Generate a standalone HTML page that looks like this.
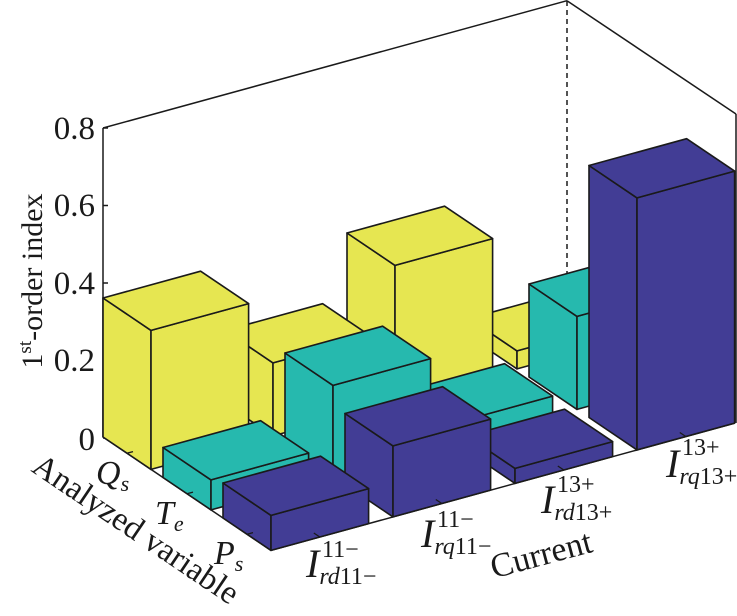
<!DOCTYPE html>
<html><head><meta charset="utf-8"><style>
html,body{margin:0;padding:0;background:#fff;}
svg{display:block;font-family:"Liberation Serif","Times New Roman",serif;}
</style></head><body>
<svg width="737" height="616" viewBox="0 0 737 616" xmlns="http://www.w3.org/2000/svg">
<g fill="none" stroke="#1a1a1a" stroke-width="1.5">
<line x1="103" y1="437" x2="103" y2="128"/>
<line x1="103" y1="128" x2="567" y2="0.7"/>
<line x1="567" y1="0.7" x2="736" y2="114"/>
<line x1="736" y1="114" x2="736" y2="423"/>
<line x1="567" y1="1" x2="567" y2="310" stroke-dasharray="5,4"/>
<line x1="103" y1="437" x2="271" y2="550.4"/>
<line x1="271" y1="550.4" x2="735" y2="423.1"/>
<line x1="103" y1="128" x2="108" y2="128"/>
<line x1="103" y1="205.5" x2="108" y2="205.5"/>
<line x1="103" y1="283" x2="108" y2="283"/>
<line x1="103" y1="360.5" x2="108" y2="360.5"/>
<line x1="103" y1="438" x2="108" y2="438"/>
</g>
<g stroke="#1a1a1a" stroke-width="1.6" stroke-linejoin="round">
<g fill="#e6e651">
<polygon points="469,336.5 517,368.9 517,350.9 469,318.5"/>
<polygon points="517,368.9 614.6,342.1 614.6,324.1 517,350.9"/>
<polygon points="469,318.5 566.6,291.7 614.6,324.1 517,350.9"/>
<polygon points="347,370 395,402.4 395,265.4 347,233"/>
<polygon points="395,402.4 492.6,375.6 492.6,238.6 395,265.4"/>
<polygon points="347,233 444.6,206.2 492.6,238.6 395,265.4"/>
<polygon points="225,403.5 273,435.9 273,362.9 225,330.5"/>
<polygon points="273,435.9 370.6,409.1 370.6,336.1 273,362.9"/>
<polygon points="225,330.5 322.6,303.7 370.6,336.1 273,362.9"/>
<polygon points="103,437 151,469.4 151,330.4 103,298"/>
<polygon points="151,469.4 248.6,442.6 248.6,303.6 151,330.4"/>
<polygon points="103,298 200.6,271.2 248.6,303.6 151,330.4"/>
</g>
<g fill="#26b9ae">
<polygon points="529,377 577,409.4 577,316.4 529,284"/>
<polygon points="577,409.4 674.6,382.6 674.6,289.6 577,316.4"/>
<polygon points="529,284 626.6,257.2 674.6,289.6 577,316.4"/>
<polygon points="407,410.5 455,442.9 455,422.9 407,390.5"/>
<polygon points="455,442.9 552.6,416.1 552.6,396.1 455,422.9"/>
<polygon points="407,390.5 504.6,363.7 552.6,396.1 455,422.9"/>
<polygon points="285,444 333,476.4 333,385.4 285,353"/>
<polygon points="333,476.4 430.6,449.6 430.6,358.6 333,385.4"/>
<polygon points="285,353 382.6,326.2 430.6,358.6 333,385.4"/>
<polygon points="163,477.5 211,509.9 211,479.9 163,447.5"/>
<polygon points="211,509.9 308.6,483.1 308.6,453.1 211,479.9"/>
<polygon points="163,447.5 260.6,420.7 308.6,453.1 211,479.9"/>
</g>
<g fill="#423d95">
<polygon points="589,417.5 637,449.9 637,197.9 589,165.5"/>
<polygon points="637,449.9 734.6,423.1 734.6,171.1 637,197.9"/>
<polygon points="589,165.5 686.6,138.7 734.6,171.1 637,197.9"/>
<polygon points="467,451 515,483.4 515,468.4 467,436"/>
<polygon points="515,483.4 612.6,456.6 612.6,441.6 515,468.4"/>
<polygon points="467,436 564.6,409.2 612.6,441.6 515,468.4"/>
<polygon points="345,484.5 393,516.9 393,445.9 345,413.5"/>
<polygon points="393,516.9 490.6,490.1 490.6,419.1 393,445.9"/>
<polygon points="345,413.5 442.6,386.7 490.6,419.1 393,445.9"/>
<polygon points="223,518 271,550.4 271,515.4 223,483"/>
<polygon points="271,550.4 368.6,523.6 368.6,488.6 271,515.4"/>
<polygon points="223,483 320.6,456.2 368.6,488.6 271,515.4"/>
</g>
</g>
<g stroke="#1a1a1a" stroke-width="1.3">
<line x1="319.8" y1="537" x2="313.8" y2="533"/>
<line x1="441.8" y1="503.5" x2="435.8" y2="499.5"/>
<line x1="563.8" y1="470" x2="557.8" y2="466"/>
<line x1="685.8" y1="436.5" x2="679.8" y2="432.5"/>
<line x1="127" y1="453.2" x2="133" y2="451.6"/>
<line x1="187" y1="493.7" x2="193" y2="492.1"/>
<line x1="247" y1="534.2" x2="253" y2="532.6"/>
</g>
<g font-size="33" fill="#1a1a1a" text-anchor="end">
<text x="95" y="139">0.8</text>
<text x="95" y="216">0.6</text>
<text x="95" y="294">0.4</text>
<text x="95" y="371">0.2</text>
<text x="95" y="450">0</text>
</g>
<text transform="translate(42,281) rotate(-90)" font-size="30" text-anchor="middle" fill="#1a1a1a">1<tspan font-size="19" dy="-11">st</tspan><tspan dy="11">-order index</tspan></text>
<g font-size="34" fill="#1a1a1a" font-style="italic">
<text x="96" y="484">Q<tspan font-size="22" dy="7">s</tspan></text>
<text x="155" y="524">T<tspan font-size="22" dy="7">e</tspan></text>
<text x="214" y="564">P<tspan font-size="22" dy="7">s</tspan></text>
</g>
<text transform="translate(130,538) rotate(34)" font-size="33" text-anchor="middle" fill="#1a1a1a">Analyzed variable</text>
<text transform="translate(544,565) rotate(-15)" font-size="34" text-anchor="middle" fill="#1a1a1a">Current</text>
<g fill="#1a1a1a" font-size="40">
<text x="306" y="577"><tspan font-style="italic">I</tspan><tspan font-size="24" dy="7" font-style="italic">rd</tspan><tspan font-size="24">11−</tspan></text>
<text x="322" y="557" font-size="24">11−</text>
<text x="421" y="547"><tspan font-style="italic">I</tspan><tspan font-size="24" dy="7" font-style="italic">rq</tspan><tspan font-size="24">11−</tspan></text>
<text x="437" y="527" font-size="24">11−</text>
<text x="541" y="513"><tspan font-style="italic">I</tspan><tspan font-size="24" dy="7" font-style="italic">rd</tspan><tspan font-size="24">13+</tspan></text>
<text x="557" y="492" font-size="24">13+</text>
<text x="666" y="477"><tspan font-style="italic">I</tspan><tspan font-size="24" dy="7" font-style="italic">rq</tspan><tspan font-size="24">13+</tspan></text>
<text x="682" y="455" font-size="24">13+</text>
</g>
</svg>
</body></html>
